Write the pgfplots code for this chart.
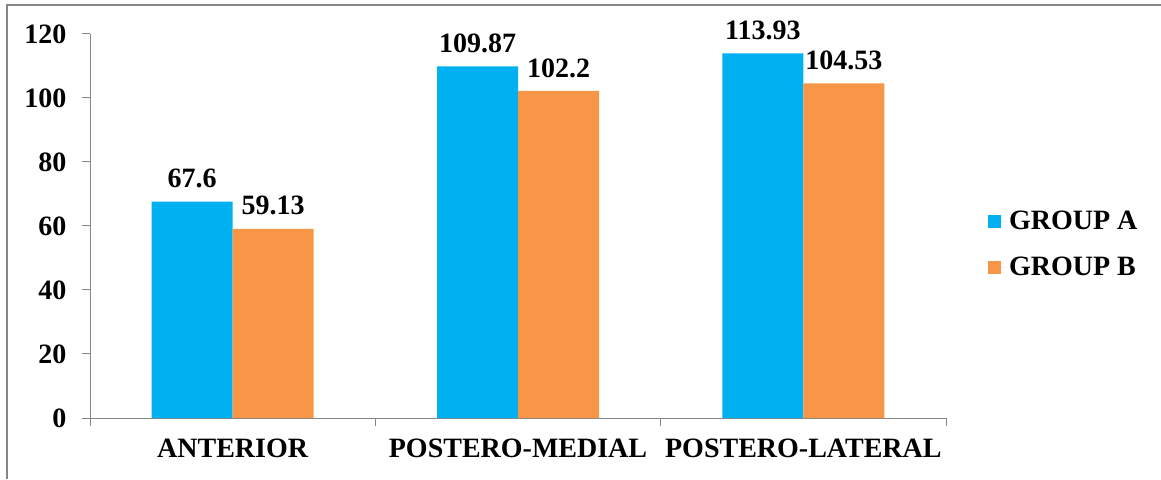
\documentclass[border=0pt]{standalone}
\usepackage{fontspec}
\setmainfont{Liberation Serif}
\usepackage{pgfplots}
\pgfplotsset{compat=1.18}
\definecolor{grpA}{HTML}{00B0F0}
\definecolor{grpB}{HTML}{F79646}
\definecolor{axgray}{HTML}{868686}
\newcommand{\bigbf}{\fontsize{28}{33}\selectfont\bfseries}
\begin{document}
\begin{tikzpicture}[x=1pt,y=1pt]
\useasboundingbox (0,0) rectangle (1161,479);
\draw[axgray, line width=1.2pt] (7,0) -- (7,474) -- (1161,474);
\begin{axis}[
  at={(90pt,61pt)}, anchor=south west,
  scale only axis, width=856pt, height=384pt,
  ybar=0pt, bar width=81pt,
  xmin=-0.5, xmax=2.5, ymin=0, ymax=120,
  axis lines*=left,
  axis line style={axgray, line width=1pt},
  xtick={0,1,2},
  xticklabels={ANTERIOR,POSTERO-MEDIAL,POSTERO-LATERAL},
  major x tick style={draw=none},
  minor xtick={-0.5,0.5,1.5,2.5},
  ytick={0,20,...,120},
  tick align=outside, major tick length=8pt, minor tick length=8pt,
  tick style={axgray, line width=1pt},
  tick label style={font=\bigbf},
  yticklabel style={xshift=-12pt},
  xticklabel style={yshift=-9pt},
  /pgf/number format/assume math mode=true,
  nodes near coords,
  nodes near coords style={font=\bigbf, yshift=10pt},
  legend style={at={(1.049,0.453)}, anchor=west, draw=none, fill=none,
    inner sep=0pt, font=\bigbf, row sep=22pt},
  legend cell align=left,
  legend image code/.code={\fill[#1] (0pt,-6.5pt) rectangle (13pt,6.5pt); \path (0pt,0pt) -- (19pt,0pt);},
]
\addplot[fill=grpA, draw=none] coordinates {(0,67.6) (1,109.87) (2,113.93)};
\addplot[fill=grpB, draw=none] coordinates {(0,59.13) (1,102.2) (2,104.53)};
\legend{GROUP A, GROUP B}
\end{axis}
\end{tikzpicture}
\end{document}
